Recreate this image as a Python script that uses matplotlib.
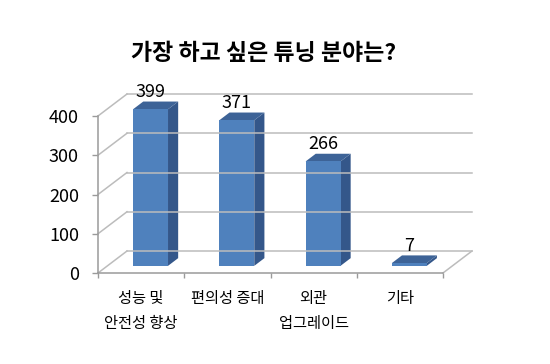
import matplotlib
matplotlib.use("Agg")
import matplotlib.pyplot as plt
from matplotlib.patches import Polygon

plt.rcParams['font.family'] = ['Noto Sans CJK KR', 'DejaVu Sans']

title = "가장 하고 싶은 튜닝 분야는?"
categories = ["성능 및\n안전성 향상", "편의성 증대", "외관\n업그레이드", "기타"]
values = [399, 371, 266, 7]
y_ticks = [0, 100, 200, 300, 400]

front_col = "#4f81bd"
side_col = "#34578a"
top_col = "#3d6397"
grid_col = "#bcbcbc"
axis_col = "#9a9a9a"

W, H = 550, 364
fig = plt.figure(figsize=(W / 100, H / 100), dpi=100)
# front plane of the 3d box
ax = fig.add_axes([98 / W, 91 / H, 345 / W, 157 / H])
ax.set_xlim(0, len(categories))
ax.set_ylim(0, 400)

# depth of the box in pixels -> data units
depth_px = (29, 22)
dx = depth_px[0] / (345 / len(categories))
dy = depth_px[1] / (157 / 400)


def proj(x, v, z):
    return (x + z * dx, v + z * dy)


# back wall gridlines and left wall diagonals
n = len(categories)
for t in y_ticks:
    bx0, by0 = proj(0, t, 1)
    bx1, by1 = proj(n, t, 1)
    ax.plot([bx0, bx1], [by0, by1], color=grid_col, lw=1.1, clip_on=False)
    ax.plot([0, bx0], [t, by0], color=grid_col, lw=1.1, clip_on=False)
# floor right edge
rx, ry = proj(n, 0, 1)
ax.plot([n, rx], [0, ry], color=grid_col, lw=1.1, clip_on=False)

# bars
bw = 0.405
zf, zb = 0.325, 0.675
for i, v in enumerate(values):
    x0 = i + (1 - bw) / 2
    x1 = x0 + bw
    front = [proj(x0, 0, zf), proj(x1, 0, zf), proj(x1, v, zf), proj(x0, v, zf)]
    side = [proj(x1, 0, zf), proj(x1, 0, zb), proj(x1, v, zb), proj(x1, v, zf)]
    top = [proj(x0, v, zf), proj(x1, v, zf), proj(x1, v, zb), proj(x0, v, zb)]
    ax.add_patch(Polygon(side, closed=True, fc=side_col, ec="none", clip_on=False))
    ax.add_patch(Polygon(top, closed=True, fc=top_col, ec="none", clip_on=False))
    ax.add_patch(Polygon(front, closed=True, fc=front_col, ec="none", clip_on=False))
    cx, cy = proj(i + 0.5, v, zf)
    ax.annotate(str(v), (cx, cy), xytext=(0, 17), textcoords="offset pixels",
                ha="center", va="center", fontsize=13, color="black",
                annotation_clip=False)

# axes
for s in ["top", "right"]:
    ax.spines[s].set_visible(False)
for s in ["left", "bottom"]:
    ax.spines[s].set_color(axis_col)
    ax.spines[s].set_linewidth(1.1)
ax.set_yticks(y_ticks)
ax.set_yticklabels([str(t) for t in y_ticks])
ax.tick_params(axis="y", length=4.3, width=1, color=axis_col, pad=9.4,
               labelsize=13)
ax.set_xticks(range(n + 1))
ax.set_xticklabels([""] * (n + 1))
ax.tick_params(axis="x", which="major", length=3.6, width=1, color=axis_col)
ax.set_xticks([i + 0.5 for i in range(n)], minor=True)
ax.set_xticklabels(categories, minor=True, fontsize=11, linespacing=1.6,
                   va="top")
ax.tick_params(axis="x", which="minor", length=0, pad=12.5)
ax.set_facecolor("none")

fig.text(264 / W, 1 - 53 / H, title, ha="center", va="center",
         fontsize=16.5, fontweight="bold")

fig.savefig("out.png", dpi=100)
